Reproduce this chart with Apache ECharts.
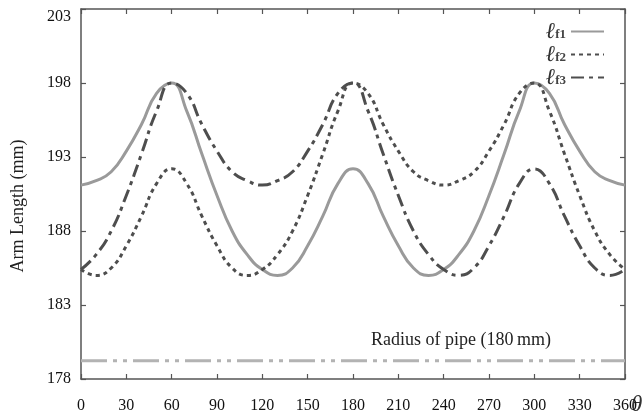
<!DOCTYPE html>
<html><head><meta charset="utf-8">
<script src="https://cdn.jsdelivr.net/npm/echarts@6/dist/echarts.min.js"></script>
<style>html,body{margin:0;padding:0;background:#fff}#c{width:643px;height:415px}</style>
</head><body><div id="c"></div>
<script>
// angle samples (degrees)
const theta = [0,10,20,30,40,50,60,70,80,90,100,110,120,130,140,150,160,170,180,190,200,210,220,230,240,250,260,270,280,290,300,310,320,330,340,350,360];
// arm lengths (mm)
const f1 = [191.1,191.4,192.0,193.4,195.2,197.3,198.0,196.1,193.2,190.4,188.0,186.4,185.4,185.0,185.5,187.0,189.0,191.2,192.2,191.2,189.0,187.0,185.5,185.0,185.4,186.4,188.0,190.4,193.2,196.1,198.0,197.3,195.2,193.4,192.0,191.4,191.1];
const f2 = [185.4,185.0,185.5,187.0,189.0,191.2,192.2,191.2,189.0,187.0,185.5,185.0,185.4,186.4,188.0,190.4,193.2,196.1,198.0,197.3,195.2,193.4,192.0,191.4,191.1,191.4,192.0,193.4,195.2,197.3,198.0,196.1,193.2,190.4,188.0,186.4,185.4];
const f3 = [185.4,186.4,188.0,190.4,193.2,196.1,198.0,197.3,195.2,193.4,192.0,191.4,191.1,191.4,192.0,193.4,195.2,197.3,198.0,196.1,193.2,190.4,188.0,186.4,185.4,185.0,185.5,187.0,189.0,191.2,192.2,191.2,189.0,187.0,185.5,185.0,185.4];
const seriesNames = ['f1','f2','f3'];
// axis ticks
const xMin = 0, xMax = 360, xStep = 30;
const yMin = 178, yMax = 203, yStep = 5;
// pipe radius reference line
const pipeLine = [[0,179.24],[360,179.24]];
const pipeLabel = 'Radius of pipe (180\u2009mm)';
const pipeLabelAt = [251.5, 180.6];

const FONT = "'Liberation Serif','Times New Roman',serif";
const AX = '#555';
const chart = echarts.init(document.getElementById('c'), null, {renderer:'canvas'});
const pairs = arr => theta.map((t,i)=>[t,arr[i]]);
const axisCommon = {
  type:'value', splitLine:{show:false},
  axisLine:{show:true,onZero:false,lineStyle:{color:AX,width:1.5}},
  axisTick:{show:true,inside:true,length:5,lineStyle:{color:AX,width:1.2}}
};
chart.setOption({
  animation:false,
  backgroundColor:'#fff',
  grid:{left:81,right:18,top:9,bottom:36,containLabel:false,outerBoundsMode:'none'},
  legend:{
    data:seriesNames, orient:'vertical', align:'right', right:33, top:15,
    itemWidth:33, itemHeight:14, itemGap:0, selectedMode:false,
    itemStyle:{opacity:0},
    formatter: n => '{l|\u2113}{s|'+n+'}',
    textStyle:{ rich:{
      l:{fontFamily:FONT,fontStyle:'italic',fontSize:23,color:'#333',lineHeight:18},
      s:{fontFamily:FONT,fontSize:13,fontWeight:'bold',color:'#444',verticalAlign:'bottom',padding:[6,0,0,0]}
    }}
  },
  xAxis:[
    Object.assign({}, axisCommon, {position:'bottom',min:xMin,max:xMax,interval:xStep,
      axisLabel:{fontFamily:FONT,fontSize:16,color:'#111',margin:19},
      name:'\u03B8', nameLocation:'end', nameGap:6, nameMoveOverlap:false,
      nameTextStyle:{fontFamily:FONT,fontStyle:'italic',fontSize:23,color:'#333',verticalAlign:'top',padding:[14,0,0,0]}}),
    Object.assign({}, axisCommon, {position:'top',min:xMin,max:xMax,interval:xStep,axisLabel:{show:false}})
  ],
  yAxis:[
    Object.assign({}, axisCommon, {position:'left',min:yMin,max:yMax,interval:yStep,
      axisLabel:{fontFamily:FONT,fontSize:16,color:'#111',margin:10,verticalAlignMaxLabel:'top'},
      name:'Arm Length (mm)', nameLocation:'middle', nameGap:54, nameMoveOverlap:false,
      nameTextStyle:{fontFamily:FONT,fontSize:18,color:'#222',padding:[0,0,0,-24]}}),
    Object.assign({}, axisCommon, {position:'right',min:yMin,max:yMax,interval:yStep,axisLabel:{show:false}})
  ],
  series:[
    {name:'f1',type:'line',data:pairs(f1),smooth:0.5,symbol:'none',
     lineStyle:{color:'#9a9a9a',width:3,type:'solid'},itemStyle:{color:'#9a9a9a'},z:3},
    {name:'f2',type:'line',data:pairs(f2),smooth:0.5,symbol:'none',
     lineStyle:{color:'#4e4e4e',width:3,type:[4,4]},itemStyle:{color:'#4e4e4e'},z:4},
    {name:'f3',type:'line',data:pairs(f3),smooth:0.5,symbol:'none',
     lineStyle:{color:'#4e4e4e',width:3,type:[13,5,4,5]},itemStyle:{color:'#4e4e4e'},z:5},
    {name:'pipe',type:'line',data:pipeLine,symbol:'none',silent:true,
     lineStyle:{color:'#b3b3b3',width:3,type:[26,6,4,6,4,6]},
     markPoint:{symbol:'circle',symbolSize:0,silent:true,
       data:[{coord:pipeLabelAt}],
       label:{show:true,position:'inside',align:'center',verticalAlign:'middle',formatter:pipeLabel,fontFamily:FONT,fontSize:18,color:'#222'}}}
  ]
});
</script></body></html>
